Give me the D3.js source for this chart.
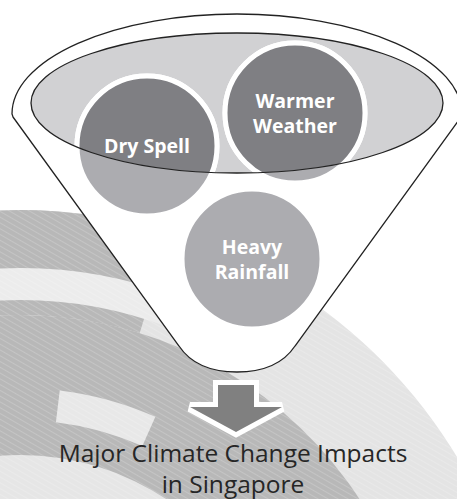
<!DOCTYPE html>
<html>
<head>
<meta charset="utf-8">
<script src="https://cdn.jsdelivr.net/npm/d3@7"></script>
<style>
  html, body { margin: 0; padding: 0; background: #fff; }
  svg { display: block; }
</style>
</head>
<body>
<div id="chart"></div>
<script>
// Labels
let circleLabels = [["Dry Spell"], ["Warmer", "Weather"], ["Heavy", "Rainfall"]];
let titleLines = ["Major Climate Change Impacts", "in Singapore"];

// Background bands: [innerRadius, outerRadius, startAngle, endAngle, tone]
let bgInner = [0, 0, 405, 420, 300, 0];
let bgOuter = [510, 405, 510, 452, 332, 265];
let bgStart = [-0.6, -0.6, -0.6, -0.12, 0.12, -0.6];
let bgEnd = [1.3, 1.3, 0.3, 0.36, 0.42, 0.6];
let bgTone = [0.08, 0.3, 0.3, 0.04, 0.06, 0.07];

let width = 457;
let height = 499;

let svg = d3.select("#chart")
    .append("svg")
    .attr("width", width)
    .attr("height", height);

let defs = svg.append("defs");

// Brushed texture
let pat = defs.append("pattern")
    .attr("id", "brush")
    .attr("width", 5)
    .attr("height", 5)
    .attr("patternUnits", "userSpaceOnUse")
    .attr("patternTransform", "rotate(-60)");
pat.append("line")
    .attr("x1", 0).attr("y1", 0).attr("x2", 0).attr("y2", 5)
    .attr("stroke", "#fff")
    .attr("stroke-opacity", 0.3)
    .attr("stroke-width", 1.2);

// Background arcs
let grey = d3.scaleLinear().domain([0, 0.4]).range(["#f4f4f4", "#a4a4a4"]);
let arc = d3.arc();
let bg = svg.append("g").attr("transform", "translate(20,720)");
bgInner.forEach((r0, i) => {
    let d = arc({innerRadius: r0, outerRadius: bgOuter[i], startAngle: bgStart[i], endAngle: bgEnd[i]});
    bg.append("path").attr("d", d).attr("fill", grey(bgTone[i]));
    bg.append("path").attr("d", d).attr("fill", "url(#brush)");
});

// Funnel
let cx = 237;
let funnel = "M13,117 L179,346 C193,367 215,372 237,372 C259,372 281,367 295,346 " +
    "L461,117 L462,114 A225,100 0 0 0 12,114 Z";
svg.append("path")
    .attr("d", funnel)
    .attr("fill", "#fff")
    .attr("stroke", "#222")
    .attr("stroke-width", 1.3);

// Inner ellipse
let ell = {cx: cx, cy: 103, rx: 206, ry: 70};
svg.append("ellipse")
    .attr("cx", ell.cx).attr("cy", ell.cy).attr("rx", ell.rx).attr("ry", ell.ry)
    .attr("fill", "#d1d1d3");

defs.append("clipPath").attr("id", "inner")
    .append("ellipse")
    .attr("cx", ell.cx).attr("cy", ell.cy).attr("rx", ell.rx).attr("ry", ell.ry);

// Circles
let centers = [[147, 146], [295, 113], [252, 259]];
let r = 70;

svg.append("g").selectAll("circle")
    .data(centers)
    .join("circle")
    .attr("cx", d => d[0]).attr("cy", d => d[1]).attr("r", r)
    .attr("fill", "#acacb0")
    .attr("stroke", "#fff")
    .attr("stroke-width", 5);

svg.append("g").attr("clip-path", "url(#inner)")
    .selectAll("circle")
    .data(centers)
    .join("circle")
    .attr("cx", d => d[0]).attr("cy", d => d[1]).attr("r", r)
    .attr("fill", "#7f7f83")
    .attr("stroke", "#fff")
    .attr("stroke-width", 5);

svg.append("ellipse")
    .attr("cx", ell.cx).attr("cy", ell.cy).attr("rx", ell.rx).attr("ry", ell.ry)
    .attr("fill", "none")
    .attr("stroke", "#222")
    .attr("stroke-width", 1.3);

// Circle labels
circleLabels.forEach((lines, i) => {
    let lh = 25;
    let y0 = centers[i][1] + 7 - (lines.length - 1) * lh / 2;
    let t = svg.append("text")
        .attr("text-anchor", "middle")
        .attr("font-family", "'Open Sans', sans-serif")
        .attr("font-weight", 700)
        .attr("font-size", 19.5)
        .attr("fill", "#fff");
    lines.forEach((s, j) => {
        t.append("tspan")
            .attr("x", centers[i][0])
            .attr("y", y0 + j * lh)
            .text(s);
    });
});

// Arrow
let ax = 236;
let arrow = [[ax - 18, 385], [ax + 18, 385], [ax + 18, 407], [ax + 46, 407],
    [ax, 432], [ax - 46, 407], [ax - 18, 407]];
svg.append("path")
    .attr("d", d3.line()(arrow) + "Z")
    .attr("fill", "#808080")
    .attr("stroke", "#fff")
    .attr("stroke-width", 10)
    .attr("stroke-linejoin", "miter")
    .attr("paint-order", "stroke");

// Title
let title = svg.append("text")
    .attr("text-anchor", "middle")
    .attr("font-family", "'Open Sans', sans-serif")
    .attr("font-size", 24.5)
    .attr("fill", "#262626");
titleLines.forEach((s, j) => {
    title.append("tspan")
        .attr("x", 233)
        .attr("y", 462 + j * 31)
        .text(s);
});
</script>
</body>
</html>
